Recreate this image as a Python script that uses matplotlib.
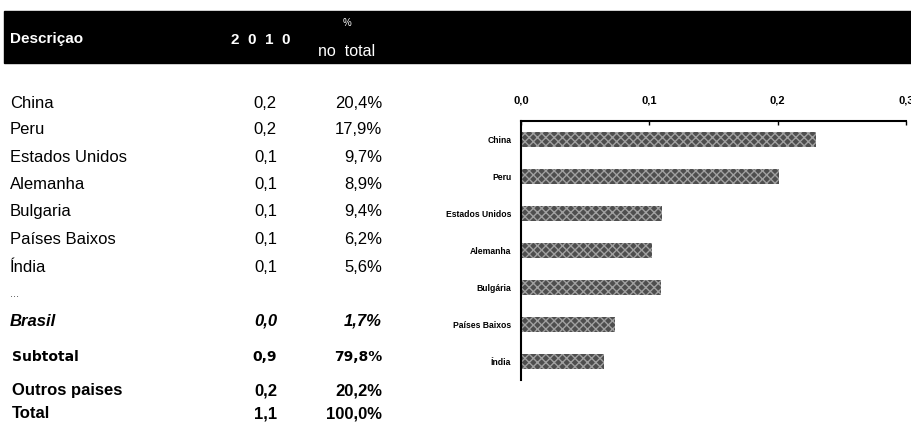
import matplotlib
matplotlib.use("Agg")
import matplotlib.pyplot as plt
from matplotlib.patches import Rectangle

plt.rcParams['font.family'] = ['Liberation Sans', 'DejaVu Sans']
plt.rcParams['hatch.linewidth'] = 1.0

# ---- data ----
row_labels = ["China", "Peru", "Estados Unidos", "Alemanha", "Bulgaria", "Países Baixos", "Índia"]
values_2010 = [0.2, 0.2, 0.1, 0.1, 0.1, 0.1, 0.1]
shares = [20.4, 17.9, 9.7, 8.9, 9.4, 6.2, 5.6]
brasil_label, brasil_value, brasil_share = "Brasil", 0.0, 1.7
subtotal_label, subtotal_value, subtotal_share = "Subtotal", 0.9, 79.8
others_label, others_value, others_share = "Outros paises", 0.2, 20.2
total_label, total_value, total_share = "Total", 1.1, 100.0

chart_labels = ["China", "Peru", "Estados Unidos", "Alemanha", "Bulgária", "Países Baixos", "Índia"]
chart_values = [0.230, 0.201, 0.110, 0.102, 0.109, 0.073, 0.065]
x_ticks = [0.0, 0.1, 0.2, 0.3]

W, H = 912, 428
fig = plt.figure(figsize=(W / 100, H / 100), dpi=100)


def fx(x):
    return x / W


def fy(y):
    return 1 - y / H


def fmt(v, d=1):
    return f"{v:.{d}f}".replace(".", ",")


FS = 12

# header bar
fig.patches.append(Rectangle((fx(4), fy(63)), fx(911) - fx(4), fy(11) - fy(63),
                             transform=fig.transFigure, color="black", zorder=0))
fig.text(fx(10), fy(39), "Descriçao", color="white", fontsize=11, fontweight="bold",
         va="center", ha="left")
fig.text(fx(261), fy(40), "2  0  1  0", color="white", fontsize=11, fontweight="bold",
         va="center", ha="center")
fig.text(fx(347), fy(23), "%", color="white", fontsize=7, va="center", ha="center")
fig.text(fx(347), fy(52), "no  total", color="white", fontsize=11.5, va="center", ha="center")

# table rows
row_y = [103, 130, 157, 185, 212, 240, 268]
for lab, v, s, y in zip(row_labels, values_2010, shares, row_y):
    fig.text(fx(10), fy(y), lab, fontsize=FS, va="center", ha="left")
    fig.text(fx(277), fy(y), fmt(v), fontsize=FS, va="center", ha="right")
    fig.text(fx(382), fy(y), fmt(s) + "%", fontsize=FS, va="center", ha="right")

fig.text(fx(10), fy(294), "...", fontsize=8, va="center", ha="left", color="#444444")

fig.text(fx(10), fy(321), brasil_label, fontsize=FS, va="center", ha="left",
         fontweight="bold", style="italic")
fig.text(fx(277), fy(321), fmt(brasil_value), fontsize=FS, va="center", ha="right",
         fontweight="bold", style="italic")
fig.text(fx(382), fy(321), fmt(brasil_share) + "%", fontsize=FS, va="center", ha="right",
         fontweight="bold", style="italic")

# subtotal row (different, wider typeface in the original)
fig.text(fx(12), fy(357), subtotal_label, fontsize=10, va="center", ha="left",
         fontweight="bold", family="DejaVu Sans")
fig.text(fx(277), fy(357), fmt(subtotal_value), fontsize=10, va="center", ha="right",
         fontweight="bold", family="DejaVu Sans")
fig.text(fx(382), fy(357), fmt(subtotal_share) + "%", fontsize=10, va="center", ha="right",
         fontweight="bold", family="DejaVu Sans")

for lab, v, s, y in [(others_label, others_value, others_share, 391),
                     (total_label, total_value, total_share, 414)]:
    fig.text(fx(12), fy(y), lab, fontsize=FS, va="center", ha="left", fontweight="bold")
    fig.text(fx(277), fy(y), fmt(v), fontsize=FS, va="center", ha="right", fontweight="bold")
    fig.text(fx(382), fy(y), fmt(s) + "%", fontsize=FS, va="center", ha="right",
             fontweight="bold")

# bar chart
ax = fig.add_axes([fx(521), fy(380), fx(906) - fx(521), (380 - 121) / H])
ypos = list(range(len(chart_labels)))
ax.barh(ypos, chart_values, height=0.42, color="#4e4e4e", edgecolor="#a0a0a0",
        hatch="xxxx", linewidth=0)
ax.set_xlim(0, 0.3)
ax.set_ylim(6.5, -0.5)
ax.set_yticks(ypos)
ax.set_yticklabels(chart_labels, fontsize=6.2, fontweight="bold")
ax.tick_params(axis="y", length=0, pad=7)
ax.xaxis.tick_top()
ax.set_xticks(x_ticks)
ax.set_xticklabels([fmt(t) for t in x_ticks], fontsize=8, fontweight="bold")
ax.tick_params(axis="x", direction="in", length=3, width=1, pad=11)
for s in ["right", "bottom"]:
    ax.spines[s].set_visible(False)
ax.spines["top"].set_linewidth(1.5)
ax.spines["left"].set_linewidth(1.5)
ax.set_facecolor("none")

fig.savefig("out.png", dpi=100)
